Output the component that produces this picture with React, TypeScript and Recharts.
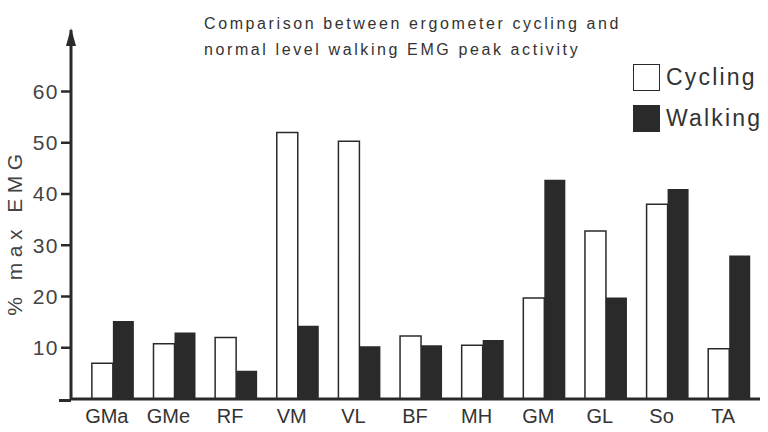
import { Bar, BarChart, XAxis, YAxis, usePlotArea } from "recharts";

const muscles = ["GMa", "GMe", "RF", "VM", "VL", "BF", "MH", "GM", "GL", "So", "TA"];
const cycling = [7, 10.8, 12, 52, 50.3, 12.3, 10.5, 19.7, 32.8, 38, 9.8];
const walking = [15.2, 13, 5.5, 14.3, 10.3, 10.5, 11.5, 42.8, 19.8, 41, 28];
const yTicks = [10, 20, 30, 40, 50, 60];

const data = muscles.map((m, i) => ({ muscle: m, cycling: cycling[i], walking: walking[i] }));

const INK = "#2a2a2a";
const FONT = "'Liberation Sans', Arial, sans-serif";

// arrow head on top of the y axis, plus the short stub of baseline left of it
function AxisDecor() {
  const area = usePlotArea();
  if (!area) return null;
  const x = area.x;
  const y = area.y;
  const base = area.y + area.height + 1.5;
  return (
    <g>
      <polygon points={`${x - 5},${y + 16} ${x},${y - 2} ${x + 5},${y + 16}`} fill={INK} />
      <line x1={x - 12} x2={x} y1={base} y2={base} stroke={INK} strokeWidth={3} />
    </g>
  );
}

function LegendBox() {
  const items = [
    { label: "Cycling", fill: "#fff" },
    { label: "Walking", fill: INK },
  ];
  return (
    <div style={{ position: "absolute", left: 633, top: 57, fontFamily: FONT }}>
      {items.map((it) => (
        <div key={it.label} style={{ display: "flex", alignItems: "center", height: 41 }}>
          <span
            style={{
              display: "inline-block",
              width: 27,
              height: 27,
              background: it.fill,
              border: `1.5px solid ${INK}`,
              boxSizing: "border-box",
              marginRight: 6,
            }}
          />
          <span style={{ fontSize: 23, letterSpacing: 2.2, color: "#333" }}>{it.label}</span>
        </div>
      ))}
    </div>
  );
}

export default function App() {
  return (
    <div style={{ position: "absolute", left: 0, top: 0, width: 768, height: 432, background: "#fff", overflow: "hidden" }}>
      <div
        style={{
          position: "absolute",
          left: 204,
          top: 11,
          fontFamily: FONT,
          fontSize: 16,
          letterSpacing: 2.6,
          lineHeight: "26px",
          color: "#333",
          whiteSpace: "nowrap",
        }}
      >
        <div>Comparison between ergometer cycling and</div>
        <div>normal level walking EMG peak activity</div>
      </div>
      <div
        style={{
          position: "absolute",
          left: 15,
          top: 232,
          transform: "translate(-50%, -50%) rotate(-90deg)",
          fontFamily: FONT,
          fontSize: 21,
          letterSpacing: 5.5,
          color: "#444",
          whiteSpace: "nowrap",
        }}
      >
        % max EMG
      </div>
      <LegendBox />
      <BarChart
        width={768}
        height={432}
        data={data}
        margin={{ top: 30, right: 8, bottom: 3, left: 0 }}
        barGap={0}
        barCategoryGap="16%"
        style={{ position: "absolute", left: 0, top: 0 }}
      >
        <XAxis
          dataKey="muscle"
          height={30}
          padding={{ left: 11, right: 0 }}
          axisLine={{ stroke: INK, strokeWidth: 3 }}
          tickLine={false}
          tick={{ fill: "#333", fontSize: 20, fontFamily: FONT, dx: -6, dy: 2 }}
          interval={0}
        />
        <YAxis
          width={71}
          domain={[0, 72]}
          ticks={yTicks}
          allowDataOverflow
          axisLine={{ stroke: INK, strokeWidth: 3 }}
          tickLine={{ stroke: INK, strokeWidth: 2.5 }}
          tickSize={10}
          tick={{ fill: "#444", fontSize: 21, fontFamily: FONT, letterSpacing: 1.5 }}
        />
        <Bar dataKey="cycling" name="Cycling" fill="#fff" stroke={INK} strokeWidth={1.5} isAnimationActive={false} />
        <Bar dataKey="walking" name="Walking" fill={INK} isAnimationActive={false} />
        <AxisDecor />
      </BarChart>
    </div>
  );
}
